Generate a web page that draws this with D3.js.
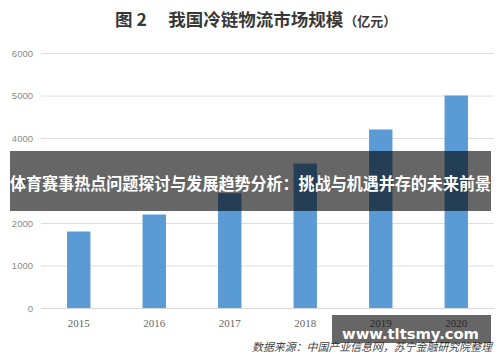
<!DOCTYPE html>
<html><head><meta charset="utf-8">
<script src="https://cdn.jsdelivr.net/npm/d3@7"></script>
<style>html,body{margin:0;padding:0;background:#fff;}svg{display:block;}</style>
</head><body>
<script>
const years = ["2015","2016","2017","2018","2019","2020"];
const values = [1800, 2200, 2700, 3400, 4200, 5000];
const yTicks = [0, 1000, 2000, 3000, 4000, 5000, 6000];
const titleMain = "图 2　 我国冷链物流市场规模";
const titleUnit = "（亿元）";
const sourceText = "数据来源：中国产业信息网，苏宁金融研究院整理";
const bannerText = "体育赛事热点问题探讨与发展趋势分析：挑战与机遇并存的未来前景";
const watermark = "www.tltsmy.com";

const W = 500, H = 362;
const svg = d3.select("body").append("svg").attr("width", W).attr("height", H);
svg.append("rect").attr("width", W).attr("height", H).attr("fill", "#fff");

const x = d3.scaleBand().domain(years).range([41, 494]).paddingInner(0.69).paddingOuter(0.345);
const y = d3.scaleLinear().domain([0, 6000]).range([308, 53]);

// title
const t = svg.append("text").attr("x", 115).attr("y", 26)
  .attr("font-family", "'Noto Sans CJK SC', sans-serif").attr("font-weight", "bold")
  .attr("fill", "#383838");
t.append("tspan").attr("font-size", 17.5).text(titleMain);
t.append("tspan").attr("font-size", 13).attr("dx", 1).text(titleUnit);

// gridlines & y axis
const yAxis = d3.axisLeft(y).tickValues(yTicks).tickSize(-(494 - 41)).tickPadding(8).tickFormat(d3.format("d"));
const gy = svg.append("g").attr("transform", "translate(41,0)").call(yAxis);
gy.select(".domain").remove();
gy.selectAll(".tick line").attr("stroke", "#dedede").attr("stroke-width", 1);
gy.selectAll(".tick text").attr("fill", "#8a8a8a").attr("font-size", 9.5)
  .attr("font-family", "'Liberation Sans', Arial, sans-serif");

// bars
svg.append("g").selectAll("rect").data(years).join("rect")
  .attr("x", d => x(d)).attr("width", x.bandwidth())
  .attr("y", (d, i) => y(values[i])).attr("height", (d, i) => y(0) - y(values[i]))
  .attr("fill", "#5b9bd5");

// x axis
const xAxis = d3.axisBottom(x).tickSize(0).tickPadding(11);
const gx = svg.append("g").attr("transform", "translate(0,308)").call(xAxis);
gx.select(".domain").attr("stroke", "#d9d9d9");
gx.selectAll(".tick text").attr("fill", "#666").attr("font-size", 11)
  .attr("font-family", "'Liberation Serif', 'Times New Roman', serif");

// source
svg.append("text").attr("x", 492).attr("y", 351).attr("text-anchor", "end")
  .attr("font-family", "'Noto Sans CJK SC', sans-serif").attr("font-size", 11)
  .attr("font-style", "italic").attr("fill", "#444")
  .attr("textLength", 240).attr("lengthAdjust", "spacingAndGlyphs").text(sourceText);

// banner overlay
svg.append("rect").attr("x", 10).attr("y", 151).attr("width", 481).attr("height", 60)
  .attr("fill", "rgba(0,0,0,0.6)");
svg.append("text").attr("x", 10).attr("y", 189.5)
  .attr("font-family", "'Noto Sans CJK SC', sans-serif").attr("font-weight", "bold")
  .attr("font-size", 16.5).attr("fill", "#fff")
  .attr("textLength", 481).attr("lengthAdjust", "spacingAndGlyphs").text(bannerText);

// watermark overlay
svg.append("rect").attr("x", 332).attr("y", 315).attr("width", 159).attr("height", 28)
  .attr("fill", "rgba(0,0,0,0.6)");
svg.append("text").attr("x", 342).attr("y", 339)
  .attr("font-family", "'DejaVu Sans', sans-serif").attr("font-weight", "bold")
  .attr("font-size", 14.5).attr("fill", "#fff")
  .attr("textLength", 137).attr("lengthAdjust", "spacingAndGlyphs").text(watermark);
</script>
</body></html>
